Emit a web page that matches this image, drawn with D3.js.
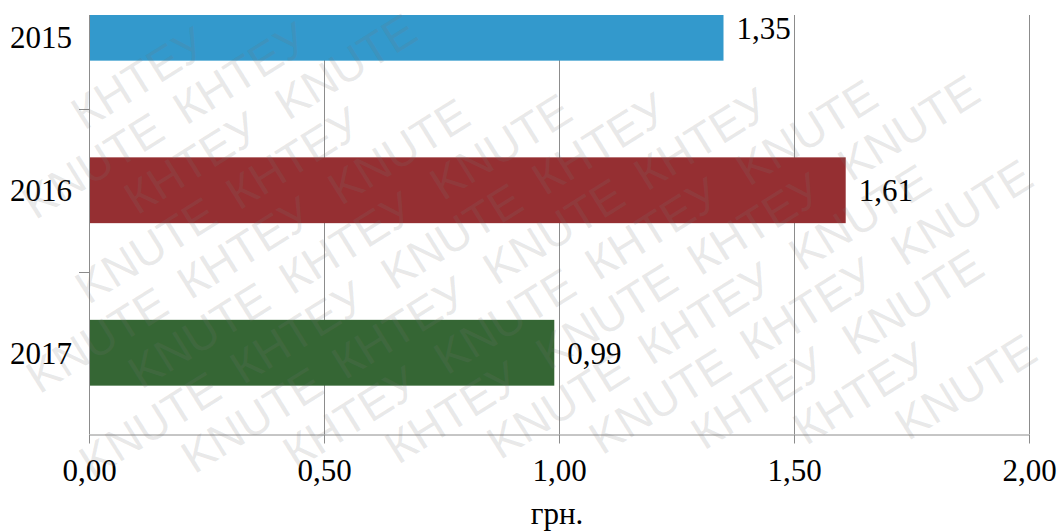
<!DOCTYPE html>
<html><head><meta charset="utf-8">
<script src="https://cdn.jsdelivr.net/npm/d3@7"></script>
<style>
html,body{margin:0;padding:0;background:#fff;}
svg{display:block;}
</style></head>
<body>
<svg id="c" width="1061" height="531"></svg>
<script>
const categories = ["2015", "2016", "2017"];
const values = [1.35, 1.61, 0.99];
const barColors = ["#3399cc", "#952f32", "#356634"];
const xTicks = [0, 0.5, 1.0, 1.5, 2.0];
const xTickLabels = ["0,00", "0,50", "1,00", "1,50", "2,00"];
const valueLabels = ["1,35", "1,61", "0,99"];
const axisTitle = "грн.";
const watermarkWords = ["KNUTE", "КНТЕУ"];

const W = 1061, H = 531;
const left = 89, right = 1029, bottom = 434, plotTop = 15;
const serif = "'Liberation Serif','Times New Roman',serif";
const fs = 31;

const svg = d3.select("#c");
const x = d3.scaleLinear().domain([0, 2]).range([left, right]);
const y = d3.scaleBand().domain(categories).range([bottom - 3 * 162.5, bottom])
  .paddingInner(0.595).paddingOuter(0.2975);

svg.append("defs").append("clipPath").attr("id", "plotclip")
  .append("rect").attr("x", left).attr("y", plotTop).attr("width", right - left + 2).attr("height", bottom - plotTop);

// gridlines
svg.append("g").selectAll("line").data(xTicks.slice(1)).join("line")
  .attr("x1", d => Math.round(x(d)) + 0.5).attr("x2", d => Math.round(x(d)) + 0.5)
  .attr("y1", plotTop).attr("y2", bottom)
  .attr("stroke", "#8c8c8c").attr("stroke-width", 1);

// bars
svg.append("g").attr("clip-path", "url(#plotclip)").selectAll("rect").data(values).join("rect")
  .attr("x", x(0)).attr("y", (d, i) => y(categories[i]))
  .attr("width", d => x(d) - x(0)).attr("height", y.bandwidth())
  .attr("fill", (d, i) => barColors[i]);

// x axis
const xAxis = d3.axisBottom(x).tickValues(xTicks).tickFormat((d, i) => xTickLabels[i])
  .tickSizeInner(9).tickSizeOuter(0).tickPadding(15);
const gx = svg.append("g").attr("transform", `translate(0,${bottom + 0.5})`).call(xAxis);
gx.attr("font-family", null).attr("font-size", null);
gx.select(".domain").attr("stroke", "#8c8c8c");
gx.selectAll(".tick line").attr("stroke", "#8c8c8c");
gx.selectAll(".tick text").style("font-family", serif).style("font-size", fs + "px").attr("fill", "#000")
  .attr("dy", "0.71em");

// y axis: line + boundary ticks
svg.append("line").attr("x1", left + 0.5).attr("x2", left + 0.5).attr("y1", plotTop).attr("y2", bottom)
  .attr("stroke", "#8c8c8c");
const boundaries = categories.slice(1).map(c => y(c) - y.step() * y.paddingInner() / 2);
svg.append("g").selectAll("line").data(boundaries).join("line")
  .attr("x1", left - 10).attr("x2", left).attr("y1", d => Math.round(d) + 0.5).attr("y2", d => Math.round(d) + 0.5)
  .attr("stroke", "#8c8c8c");

svg.append("g").selectAll("text").data(categories).join("text")
  .attr("x", 72)
  .attr("y", d => Math.max(y(d) + y.bandwidth() / 2, 37))
  .attr("dy", "0.35em").attr("text-anchor", "end")
  .style("font-family", serif).style("font-size", fs + "px").attr("fill", "#000")
  .text(d => d);

// value labels
svg.append("g").selectAll("text").data(values).join("text")
  .attr("x", d => x(d) + 13)
  .attr("y", (d, i) => y(categories[i]) + y.bandwidth() / 2)
  .attr("dy", "0.35em")
  .style("font-family", serif).style("font-size", fs + "px").attr("fill", "#000")
  .text((d, i) => valueLabels[i]);

// axis title
svg.append("text").attr("x", 557).attr("y", 524)
  .attr("text-anchor", "middle")
  .style("font-family", serif).style("font-size", fs + "px").attr("fill", "#000")
  .text(axisTitle);

// watermark overlay: individual words, only those fully inside the picture
const ang = -32, rad = ang * Math.PI / 180;
const cx = 530, cy = 265, rowGap = 50, step = 178;
const wm = svg.append("g").attr("pointer-events", "none")
  .style("font-family", "'Liberation Sans',Arial,sans-serif").style("font-size", "46px")
  .attr("fill", "#777").attr("fill-opacity", 0.17);
for (let r = -9; r <= 9; r++) {
  for (let k = -6; k <= 6; k++) {
    const u = k * step + (((r % 2) + 2) % 2) * step / 2 - 40;
    const v = r * rowGap;
    const sx = cx + u * Math.cos(rad) - v * Math.sin(rad);
    const sy = cy + u * Math.sin(rad) + v * Math.cos(rad);
    if (sx < -300 || sx > W + 300 || sy < -300 || sy > H + 300) continue;
    const t = wm.append("text").attr("transform", `translate(${sx.toFixed(1)},${sy.toFixed(1)}) rotate(${ang})`)
      .text(watermarkWords[((r + k) % 2 + 2) % 2]);
    const b = t.node().getBoundingClientRect();
    if (b.left < 0 || b.top < 0 || b.right > W || b.bottom > H) t.remove();
  }
}
</script>
</body></html>
